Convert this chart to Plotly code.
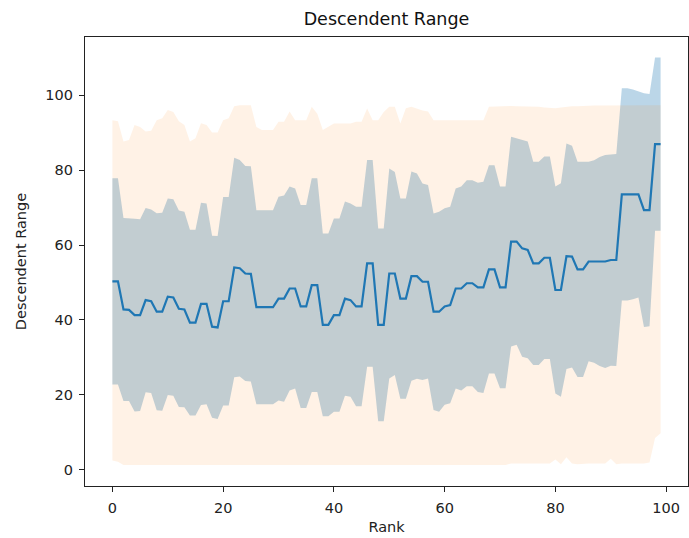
import plotly.graph_objects as go

rank = list(range(100))

mean_range = [
    50.3, 50.3, 42.8, 42.7, 41.3, 41.3, 45.3, 45.0, 42.2, 42.2,
    46.2, 46.0, 43.0, 42.8, 39.3, 39.3, 44.3, 44.3, 38.2, 38.0,
    45.0, 45.0, 54.0, 53.8, 52.4, 52.3, 43.4, 43.4, 43.4, 43.4,
    45.7, 45.7, 48.4, 48.4, 43.6, 43.6, 49.3, 49.3, 38.7, 38.7,
    41.3, 41.3, 45.7, 45.3, 43.6, 43.6, 55.1, 55.1, 38.7, 38.7,
    52.4, 52.4, 45.7, 45.7, 51.7, 51.7, 50.2, 50.2, 42.2, 42.2,
    43.6, 44.0, 48.4, 48.4, 49.8, 49.8, 48.7, 48.7, 53.5, 53.5,
    48.7, 48.7, 60.9, 60.9, 59.1, 58.7, 55.1, 55.1, 56.6, 56.6,
    48.0, 48.0, 57.0, 56.9, 53.5, 53.5, 55.6, 55.6, 55.6, 55.6,
    56.0, 56.0, 73.5, 73.5, 73.5, 73.5, 69.3, 69.3, 86.9, 86.9,
]

std_range = [
    27.5, 27.5, 24.4, 24.3, 25.7, 25.6, 24.6, 24.5, 26.3, 26.4,
    26.2, 26.2, 26.2, 26.1, 24.8, 24.8, 27.0, 26.8, 24.3, 24.4,
    27.8, 27.8, 29.3, 28.9, 28.7, 28.7, 25.9, 25.9, 25.9, 25.9,
    27.2, 27.5, 27.2, 26.7, 27.1, 27.1, 28.5, 28.5, 24.4, 24.4,
    25.8, 25.8, 25.9, 25.8, 26.6, 26.6, 27.6, 27.6, 25.7, 25.7,
    28.0, 27.1, 26.7, 26.7, 27.9, 27.4, 26.2, 25.8, 26.2, 26.7,
    26.2, 26.2, 26.7, 27.2, 27.5, 27.5, 27.9, 28.2, 27.8, 27.8,
    26.9, 26.9, 28.0, 27.5, 28.9, 28.9, 27.1, 27.1, 27.0, 27.0,
    27.6, 28.5, 30.1, 29.6, 28.7, 28.7, 26.6, 27.0, 27.9, 28.4,
    28.2, 28.3, 28.3, 28.3, 28.0, 27.5, 31.2, 31.0, 23.1, 23.1,
]

min_range = [
    2.5, 2.2, 1.3, 1.3, 1.3, 1.3, 1.3, 1.3, 1.3, 1.3,
    1.3, 1.3, 1.3, 1.3, 1.3, 1.3, 1.3, 1.3, 1.3, 1.3,
    1.3, 1.3, 1.3, 1.3, 1.3, 1.3, 1.3, 1.3, 1.3, 1.3,
    1.3, 1.3, 1.3, 1.3, 1.3, 1.3, 1.3, 1.3, 1.3, 1.3,
    1.3, 1.3, 1.3, 1.3, 1.3, 1.3, 1.3, 1.3, 1.3, 1.3,
    1.3, 1.3, 1.3, 1.3, 1.3, 1.3, 1.3, 1.3, 1.3, 1.3,
    1.3, 1.3, 1.3, 1.3, 1.3, 1.3, 1.3, 1.3, 1.3, 1.3,
    1.3, 1.3, 1.7, 1.7, 1.7, 1.7, 1.7, 1.7, 1.7, 1.7,
    2.8, 1.5, 3.4, 1.7, 1.5, 1.7, 1.7, 1.7, 1.7, 1.7,
    3.0, 1.5, 1.7, 1.7, 1.7, 1.7, 1.7, 2.0, 8.5, 9.8,
]

max_range = [
    93.3, 93.0, 87.6, 88.0, 92.0, 91.5, 90.3, 90.5, 93.3, 93.8,
    96.0, 95.5, 93.0, 92.0, 87.6, 88.5, 92.5, 92.0, 90.0, 90.0,
    93.3, 93.8, 97.0, 97.3, 97.3, 97.3, 91.5, 90.7, 90.7, 90.7,
    92.9, 92.9, 95.6, 93.3, 93.3, 93.3, 96.9, 95.0, 90.7, 91.6,
    92.4, 92.4, 92.4, 92.4, 92.9, 92.9, 96.4, 93.3, 93.3, 95.5,
    96.9, 96.9, 92.4, 96.5, 96.9, 96.3, 95.9, 95.6, 93.3, 93.3,
    93.3, 93.3, 93.3, 93.3, 93.3, 93.3, 93.3, 93.3, 96.9, 97.0,
    97.0, 97.0, 97.1, 97.0, 97.0, 97.0, 97.0, 96.9, 96.7, 96.6,
    96.5, 96.7, 96.9, 97.0, 97.0, 97.1, 97.1, 97.2, 97.2, 97.2,
    97.2, 97.2, 97.3, 97.3, 97.3, 97.3, 97.3, 97.3, 97.3, 97.3,
]

x_ticks = [0, 20, 40, 60, 80, 100]
y_ticks = [0, 20, 40, 60, 80, 100]

upper = [m + s for m, s in zip(mean_range, std_range)]
lower = [m - s for m, s in zip(mean_range, std_range)]

fig = go.Figure()

# mean +/- std band (blue)
fig.add_trace(go.Scatter(x=rank, y=lower, mode="lines", line=dict(width=0),
                         showlegend=False, hoverinfo="skip"))
fig.add_trace(go.Scatter(x=rank, y=upper, mode="lines", line=dict(width=0),
                         fill="tonexty", fillcolor="rgba(31,119,180,0.3)",
                         showlegend=False, hoverinfo="skip"))
# min/max band (orange)
fig.add_trace(go.Scatter(x=rank, y=min_range, mode="lines", line=dict(width=0),
                         showlegend=False, hoverinfo="skip"))
fig.add_trace(go.Scatter(x=rank, y=max_range, mode="lines", line=dict(width=0),
                         fill="tonexty", fillcolor="rgba(255,127,14,0.1)",
                         showlegend=False, hoverinfo="skip"))
# mean line
fig.add_trace(go.Scatter(x=rank, y=mean_range, mode="lines",
                         line=dict(color="#1f77b4", width=2.2),
                         showlegend=False))

font_family = "DejaVu Sans"
axis_common = dict(
    showgrid=False, zeroline=False, showline=True, mirror=True,
    linecolor="#222222", linewidth=1.2, ticks="outside", ticklen=5,
    tickwidth=1.2, tickcolor="#222222",
    tickfont=dict(family=font_family, size=14.5, color="#222222"),
)

fig.update_layout(
    width=689, height=538,
    margin=dict(l=85, r=1, t=37, b=52),
    paper_bgcolor="white", plot_bgcolor="white",
    title=dict(text="Descendent Range", x=(85 + 688) / 2 / 689, xanchor="center",
               y=1 - 18.5 / 538, yanchor="middle", yref="container",
               font=dict(family=font_family, size=17.5, color="#111111")),
    xaxis=dict(range=[-4.95, 103.95], tickvals=x_ticks, ticklabelstandoff=3,
               title=dict(text="Rank", standoff=7,
                          font=dict(family=font_family, size=14.5, color="#222222")),
               **axis_common),
    yaxis=dict(range=[-4.3, 115.5], tickvals=y_ticks, ticklabelstandoff=3,
               title=dict(text="Descendent Range", standoff=15,
                          font=dict(family=font_family, size=14.5, color="#222222")),
               **axis_common),
)

fig.write_html("out.html")
